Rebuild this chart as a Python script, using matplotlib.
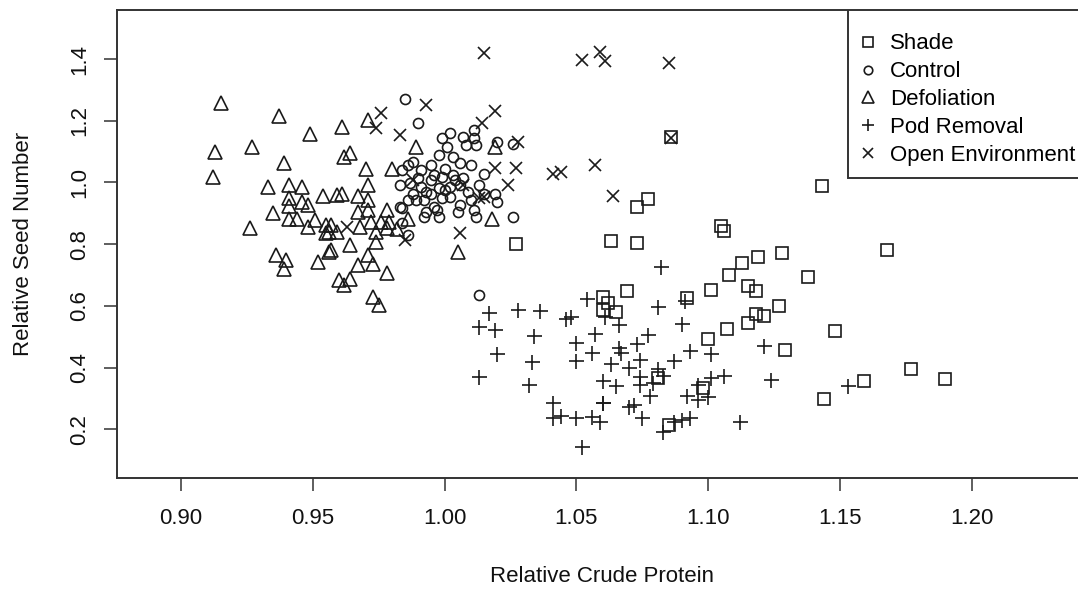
import matplotlib
matplotlib.use('Agg')
import matplotlib.pyplot as plt
from matplotlib.patches import Rectangle

plt.rcParams['font.family'] = ['Liberation Sans', 'DejaVu Sans']

# values
shade_x = [1.027, 1.063, 1.073, 1.077, 1.073, 1.086, 1.069, 1.060, 1.062, 1.060,
           1.065, 1.092, 1.101, 1.108, 1.113, 1.119, 1.128, 1.115, 1.118, 1.105,
           1.106, 1.143, 1.168, 1.138, 1.127, 1.118, 1.121, 1.115, 1.107, 1.100,
           1.148, 1.129, 1.098, 1.085, 1.159, 1.177, 1.190, 1.144, 1.081]
shade_y = [0.802, 0.811, 0.804, 0.946, 0.921, 1.146, 0.648, 0.629, 0.608, 0.588,
           0.581, 0.624, 0.651, 0.700, 0.738, 0.757, 0.770, 0.664, 0.648, 0.859,
           0.842, 0.988, 0.781, 0.694, 0.599, 0.575, 0.567, 0.543, 0.524, 0.491,
           0.519, 0.457, 0.335, 0.213, 0.357, 0.394, 0.363, 0.298, 0.366]

control_x = [0.985, 0.990, 0.999, 1.002, 1.007, 1.011, 1.011, 1.001, 1.008, 1.012,
             1.020, 1.026, 0.998, 1.003, 1.006, 0.988, 0.986, 0.995, 0.984, 0.991,
             1.000, 1.010, 1.015, 0.983, 0.990, 0.995, 0.999, 1.003, 1.007, 0.991,
             0.998, 1.002, 1.006, 0.988, 0.995, 0.999, 1.002, 0.986, 0.992, 0.984,
             0.996, 0.992, 0.998, 1.006, 1.005, 1.011, 1.012, 1.015, 1.019, 1.020,
             1.026, 0.986, 1.013, 0.983, 0.987, 0.989, 0.993, 0.997, 0.984, 1.000,
             1.004, 0.996, 0.993, 1.009, 1.013, 1.010]
control_y = [1.270, 1.194, 1.143, 1.159, 1.148, 1.170, 1.143, 1.115, 1.121, 1.121,
             1.132, 1.126, 1.088, 1.083, 1.062, 1.067, 1.056, 1.056, 1.040, 1.040,
             1.045, 1.056, 1.029, 0.991, 1.013, 1.008, 1.018, 1.024, 1.013, 0.986,
             0.981, 0.986, 0.991, 0.964, 0.964, 0.948, 0.953, 0.943, 0.943, 0.916,
             0.921, 0.889, 0.889, 0.926, 0.905, 0.910, 0.889, 0.964, 0.964, 0.937,
             0.889, 0.829, 0.635, 0.921, 0.998, 0.943, 0.905, 0.910, 0.867, 0.975,
             1.007, 1.024, 0.969, 0.969, 0.991, 0.943]

defol_x = [0.915, 0.937, 0.949, 0.913, 0.927, 0.939, 0.912, 0.933, 0.941, 0.946,
           0.954, 0.941, 0.946, 0.948, 0.941, 0.935, 0.941, 0.944, 0.951, 0.948,
           0.955, 0.955, 0.926, 0.936, 0.940, 0.939, 0.952, 0.956, 0.971, 0.959,
           0.961, 0.967, 0.971, 0.967, 0.971, 0.978, 0.957, 0.956, 0.959, 0.968,
           0.972, 0.976, 0.979, 0.986, 0.974, 0.978, 0.982, 0.974, 0.957, 0.964,
           0.971, 0.967, 0.973, 0.978, 0.960, 0.964, 0.962, 0.973, 0.975, 0.961,
           0.971, 0.989, 0.962, 0.964, 0.970, 0.980, 1.019, 1.018, 1.005]
defol_y = [1.258, 1.215, 1.156, 1.099, 1.115, 1.062, 1.018, 0.986, 0.991, 0.986,
           0.956, 0.948, 0.937, 0.926, 0.923, 0.900, 0.883, 0.883, 0.878, 0.856,
           0.862, 0.835, 0.851, 0.764, 0.748, 0.721, 0.743, 0.775, 0.991, 0.959,
           0.962, 0.956, 0.943, 0.905, 0.910, 0.910, 0.862, 0.840, 0.840, 0.856,
           0.872, 0.872, 0.872, 0.880, 0.840, 0.851, 0.848, 0.807, 0.781, 0.797,
           0.764, 0.732, 0.737, 0.705, 0.683, 0.686, 0.667, 0.629, 0.602, 1.180,
           1.202, 1.115, 1.083, 1.094, 1.045, 1.045, 1.115, 0.883, 0.775]

pod_x = [1.082, 1.054, 1.081, 1.091, 1.048, 1.046, 1.061, 1.066, 1.090, 1.057,
         1.077, 1.050, 1.073, 1.066, 1.067, 1.056, 1.050, 1.063, 1.074, 1.093,
         1.101, 1.087, 1.070, 1.081, 1.060, 1.074, 1.083, 1.101, 1.106, 1.065,
         1.074, 1.079, 1.096, 1.092, 1.100, 1.096, 1.078, 1.060, 1.070, 1.072,
         1.050, 1.056, 1.059, 1.075, 1.087, 1.090, 1.093, 1.083, 1.112, 1.052,
         1.017, 1.028, 1.036, 1.013, 1.019, 1.034, 1.020, 1.033, 1.013, 1.032,
         1.041, 1.041, 1.060, 1.121, 1.124, 1.153, 1.044]
pod_y = [0.725, 0.621, 0.597, 0.616, 0.564, 0.559, 0.564, 0.538, 0.541, 0.508,
         0.507, 0.481, 0.476, 0.465, 0.446, 0.446, 0.421, 0.413, 0.424, 0.455,
         0.444, 0.422, 0.397, 0.394, 0.358, 0.370, 0.372, 0.367, 0.374, 0.340,
         0.343, 0.349, 0.343, 0.307, 0.306, 0.294, 0.307, 0.284, 0.273, 0.278,
         0.235, 0.240, 0.224, 0.235, 0.224, 0.230, 0.235, 0.192, 0.224, 0.143,
         0.577, 0.588, 0.584, 0.532, 0.521, 0.503, 0.444, 0.417, 0.370, 0.343,
         0.286, 0.235, 0.286, 0.469, 0.359, 0.340, 0.243]

open_x = [1.015, 1.052, 1.059, 1.061, 1.085, 1.086, 1.019, 1.014, 1.028, 1.019,
          1.027, 1.041, 1.044, 1.057, 1.064, 1.024, 1.015, 0.993, 0.976, 0.974,
          0.983, 1.007, 1.013, 1.006, 0.985, 0.963, 0.988]
open_y = [1.420, 1.396, 1.423, 1.394, 1.388, 1.145, 1.232, 1.193, 1.132, 1.048,
          1.047, 1.029, 1.034, 1.056, 0.957, 0.991, 0.953, 1.251, 1.224, 1.175,
          1.153, 0.991, 0.948, 0.835, 0.813, 0.856, 1.007]

x_ticks = [0.90, 0.95, 1.00, 1.05, 1.10, 1.15, 1.20]
y_ticks = [0.2, 0.4, 0.6, 0.8, 1.0, 1.2, 1.4]

ink = '#1a1a1a'
fig = plt.figure(figsize=(10.78, 5.91), dpi=100)
ax = fig.add_axes([117 / 1078, 113 / 591, 970 / 1078, 468 / 591])

common = dict(linestyle='none', markerfacecolor='none', markeredgecolor=ink,
              markeredgewidth=1.2)
ax.plot(shade_x, shade_y, marker='s', markersize=9.0, label='Shade', **common)
ax.plot(control_x, control_y, marker='o', markersize=7.2, label='Control', **common)
ax.plot(defol_x, defol_y, marker='^', markersize=10.5, label='Defoliation', **common)
ax.plot(pod_x, pod_y, marker='+', markersize=10.8, label='Pod Removal', **common)
ax.plot(open_x, open_y, marker='x', markersize=9.2, label='Open Environment', **common)

ax.set_xlim(0.8757, 1.2437)
ax.set_ylim(0.042, 1.559)
ax.set_xticks(x_ticks)
ax.set_xticklabels(['%.2f' % v for v in x_ticks])
ax.set_yticks(y_ticks)
ax.set_yticklabels(['%.1f' % v for v in y_ticks], rotation=90, va='center')

for s in ax.spines.values():
    s.set_color('#333333')
    s.set_linewidth(1.4)
ax.tick_params(axis='both', direction='out', length=9.4, width=1.1,
               color='#333333', labelsize=16, labelcolor='#111111')
ax.tick_params(axis='x', pad=12)
ax.tick_params(axis='y', pad=10)

ax.set_xlabel('Relative Crude Protein', fontsize=16, color='#111111')
ax.set_ylabel('Relative Seed Number', fontsize=16, color='#111111')
ax.xaxis.set_label_coords(0.5, -0.2115)
ax.xaxis.label.set_verticalalignment('center')
ax.yaxis.set_label_coords(-0.096, 0.5)
ax.yaxis.label.set_verticalalignment('center')

# legend box like R's legend("topright"), frame drawn separately
ax.add_patch(Rectangle((0.7533, 0.641), 0.26, 0.36, transform=ax.transAxes,
                       facecolor='white', edgecolor='#333333', linewidth=1.4,
                       zorder=4))
leg = ax.legend(loc='upper left', bbox_to_anchor=(0.7696, 0.950), borderaxespad=0,
                frameon=False, fontsize=16, labelspacing=0.31,
                handlelength=0.4, handletextpad=0.8, borderpad=0,
                markerscale=0.85)
leg.set_zorder(5)

plt.savefig('out.png', dpi=100)
